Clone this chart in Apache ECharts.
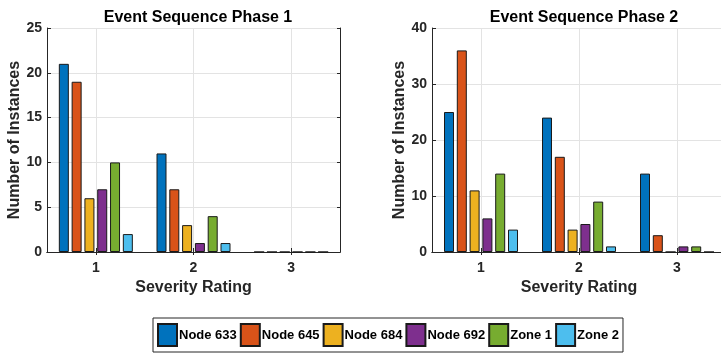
<!DOCTYPE html>
<html>
<head>
<meta charset="utf-8">
<script src="https://cdn.jsdelivr.net/npm/echarts@6/dist/echarts.min.js"></script>
<style>html,body{margin:0;padding:0;background:#fff;overflow:hidden;}#c{width:740px;height:353px;}</style>
</head>
<body>
<div id="c"></div>
<script>
const categories = ['1', '2', '3'];
const seriesNames = ['Node 633', 'Node 645', 'Node 684', 'Node 692', 'Zone 1', 'Zone 2'];
const colors = ['#0072BD', '#D95319', '#EDB120', '#7E2F8E', '#77AC30', '#4DBEEE'];
// Phase 1 values per series (severity 1,2,3)
const phase1_node633 = [21, 11, 0];
const phase1_node645 = [19, 7, 0];
const phase1_node684 = [6, 3, 0];
const phase1_node692 = [7, 1, 0];
const phase1_zone1 = [10, 4, 0];
const phase1_zone2 = [2, 1, 0];
// Phase 2 values
const phase2_node633 = [25, 24, 14];
const phase2_node645 = [36, 17, 3];
const phase2_node684 = [11, 4, 0];
const phase2_node692 = [6, 5, 1];
const phase2_zone1 = [14, 9, 1];
const phase2_zone2 = [4, 1, 0];
const phase1Ticks = [0, 5, 10, 15, 20, 25];
const phase2Ticks = [0, 10, 20, 30, 40];

const phase1 = [phase1_node633, phase1_node645, phase1_node684, phase1_node692, phase1_zone1, phase1_zone2];
const phase2 = [phase2_node633, phase2_node645, phase2_node684, phase2_node692, phase2_zone1, phase2_zone2];

const FONT = "'Liberation Sans', Arial, sans-serif";
const TXT = '#262626';

function xAx(gi) {
  return {
    type: 'category', gridIndex: gi, data: categories, boundaryGap: true,
    axisLine: {lineStyle: {color: TXT, width: 1}},
    axisTick: {show: true, inside: true, length: 4, alignWithLabel: true, lineStyle: {color: TXT}},
    axisLabel: {color: TXT, fontFamily: FONT, fontWeight: 'bold', fontSize: 14, margin: 9},
    splitLine: {show: true, alignWithLabel: true, lineStyle: {color: '#e3e3e3', width: 1}},
    name: 'Severity Rating', nameLocation: 'middle', nameGap: 27,
    nameTextStyle: {color: TXT, fontFamily: FONT, fontWeight: 'bold', fontSize: 16}
  };
}
function xTop(gi) {
  return {
    type: 'category', gridIndex: gi, data: categories, boundaryGap: true, position: 'top',
    axisLine: {show: true, lineStyle: {color: TXT, width: 1}},
    axisTick: {show: true, inside: true, length: 3, alignWithLabel: true, lineStyle: {color: TXT}},
    axisLabel: {show: false}, splitLine: {show: false}
  };
}
function yAx(gi, ticks) {
  return {
    type: 'value', gridIndex: gi, min: ticks[0], max: ticks[ticks.length - 1],
    interval: ticks[1] - ticks[0],
    axisLine: {show: true, lineStyle: {color: TXT, width: 1}},
    axisTick: {show: true, inside: true, length: 4, lineStyle: {color: TXT}},
    axisLabel: {color: TXT, fontFamily: FONT, fontWeight: 'bold', fontSize: 14, margin: 5},
    splitLine: {show: true, lineStyle: {color: '#e3e3e3', width: 1}},
    name: 'Number of Instances', nameLocation: 'middle', nameGap: 23,
    nameTextStyle: {color: TXT, fontFamily: FONT, fontWeight: 'bold', fontSize: 16}
  };
}
function yRight(gi, ticks) {
  return {
    type: 'value', gridIndex: gi, position: 'right', min: ticks[0], max: ticks[ticks.length - 1],
    interval: ticks[1] - ticks[0],
    axisLine: {show: true, lineStyle: {color: TXT, width: 1}},
    axisTick: {show: true, inside: true, length: 3, lineStyle: {color: TXT}},
    axisLabel: {show: false}, splitLine: {show: false}
  };
}

const series = [];
[phase1, phase2].forEach((ph, gi) => {
  ph.forEach((vals, i) => {
    series.push({
      type: 'bar', name: seriesNames[i], xAxisIndex: gi, yAxisIndex: gi,
      data: vals, barWidth: 10, barGap: '28%',
      itemStyle: {color: colors[i], borderColor: '#1a1a1a', borderWidth: 1},
      emphasis: {disabled: true}, animation: false
    });
  });
});

const chart = echarts.init(document.getElementById('c'), null, {renderer: 'canvas'});
chart.setOption({
  animation: false,
  backgroundColor: '#fff',
  title: [
    {text: 'Event Sequence Phase 1', left: 193, top: 5, textAlign: 'center',
     textStyle: {color: '#000', fontFamily: FONT, fontWeight: 'bold', fontSize: 16}},
    {text: 'Event Sequence Phase 2', left: 579, top: 5, textAlign: 'center',
     textStyle: {color: '#000', fontFamily: FONT, fontWeight: 'bold', fontSize: 16}}
  ],
  grid: [
    {left: 47, top: 28, width: 293, height: 224, show: false},
    {left: 432, top: 28, width: 294, height: 224, show: false}
  ],
  xAxis: [xAx(0), xAx(1), xTop(0), xTop(1)],
  yAxis: [yAx(0, phase1Ticks), yAx(1, phase2Ticks), yRight(0, phase1Ticks), yRight(1, phase2Ticks)],
  legend: {
    data: seriesNames, left: 153, top: 318, orient: 'horizontal',
    icon: 'rect', itemWidth: 19, itemHeight: 22, itemGap: 3,
    padding: [5, 4, 5, 4], borderColor: TXT, borderWidth: 1, backgroundColor: '#fff',
    textStyle: {color: '#000', fontFamily: FONT, fontWeight: 'bold', fontSize: 13, padding: [0, 0, 0, -3]},
    selectedMode: false
  },
  series: series
});
</script>
</body>
</html>
